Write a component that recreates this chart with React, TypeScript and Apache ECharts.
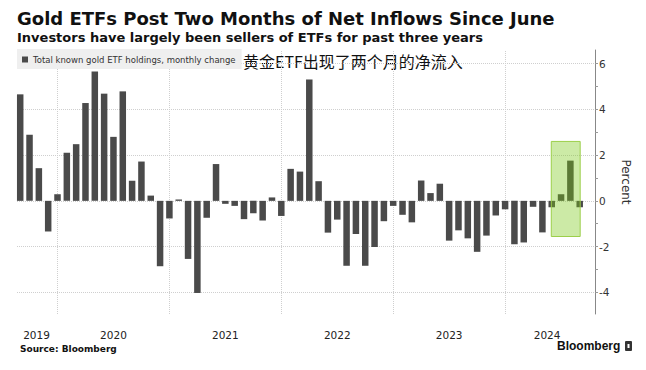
import React, { useEffect, useRef } from 'react';
import * as echarts from 'echarts';

const months = [
  '2019-09', '2019-10', '2019-11', '2019-12',
  '2020-01', '2020-02', '2020-03', '2020-04', '2020-05', '2020-06', '2020-07', '2020-08', '2020-09', '2020-10', '2020-11', '2020-12',
  '2021-01', '2021-02', '2021-03', '2021-04', '2021-05', '2021-06', '2021-07', '2021-08', '2021-09', '2021-10', '2021-11', '2021-12',
  '2022-01', '2022-02', '2022-03', '2022-04', '2022-05', '2022-06', '2022-07', '2022-08', '2022-09', '2022-10', '2022-11', '2022-12',
  '2023-01', '2023-02', '2023-03', '2023-04', '2023-05', '2023-06', '2023-07', '2023-08', '2023-09', '2023-10', '2023-11', '2023-12',
  '2024-01', '2024-02', '2024-03', '2024-04', '2024-05', '2024-06', '2024-07', '2024-08', '2024-09',
];

const changes = [
  4.66, 2.89, 1.43, -1.34,
  0.29, 2.10, 2.48, 4.28, 5.66, 4.69, 2.80, 4.79, 0.88, 1.72, 0.23, -2.86,
  -0.77, 0.06, -2.54, -4.03, -0.74, 1.61, -0.13, -0.22, -0.80, -0.54, -0.86, 0.15,
  -0.66, 1.40, 1.28, 5.31, 0.86, -1.39, -0.82, -2.84, -1.45, -2.84, -2.02, -0.89,
  -0.22, -0.61, -0.94, 0.89, 0.34, 0.75, -1.74, -1.29, -1.64, -2.23, -1.52, -0.64,
  -0.37, -1.90, -1.82, -0.26, -1.38, -0.28, 0.29, 1.76, -0.28,
];

const yearLabels = ['2019', '2020', '2021', '2022', '2023', '2024'];
const yearLabelPositions = [1.75, 10, 22, 34, 46, 56.5];
const yearStartPositions = [4, 16, 28, 40, 52];
const yLabelValues = [-4, -2, 0, 2, 4, 6];
const yTickValues = [-4, -3, -2, -1, 0, 1, 2, 3, 4, 5, 6];
const highlightX = [56.95, 60.05];
const highlightY = [-1.56, 2.6];

const titleText = 'Gold ETFs Post Two Months of Net Inflows Since June';
const subtitleText = 'Investors have largely been sellers of ETFs for past three years';
const seriesName = 'Total known gold ETF holdings, monthly change';
const annotationText = '黄金ETF出现了两个月的净流入';
const sourceText = 'Source: Bloomberg';
const yAxisName = 'Percent';

export default function App() {
  const ref = useRef<HTMLDivElement>(null);

  useEffect(() => {
    if (!ref.current) return;
    const chart = echarts.init(ref.current, undefined, { renderer: 'svg' });
    const sans = 'DejaVu Sans';
    chart.setOption({
      animation: false,
      backgroundColor: '#ffffff',
      title: [
        {
          text: titleText, left: 17, top: 9, padding: 0,
          textStyle: { fontFamily: sans, fontWeight: 'bold', fontSize: 18, color: '#111' },
        },
        {
          text: subtitleText, left: 17, top: 31, padding: 0,
          textStyle: { fontFamily: sans, fontWeight: 'bold', fontSize: 13, color: '#111' },
        },
      ],
      legend: {
        left: 17, top: 49, padding: [6, 6, 5, 5],
        backgroundColor: '#efefef',
        icon: 'rect', itemWidth: 6, itemHeight: 6,
        selectedMode: false,
        textStyle: { fontFamily: sans, fontSize: 8.5, color: '#333' },
        data: [seriesName],
      },
      grid: { left: 17, right: 51, top: 50, bottom: 56, containLabel: false },
      xAxis: {
        type: 'value', min: -0.344, max: 61.64,
        axisLine: { show: false, onZero: false }, axisTick: { show: false }, splitLine: { show: false },
        axisLabel: {
          customValues: yearLabelPositions,
          margin: 15,
          fontFamily: sans, fontSize: 10.5, color: '#222',
          formatter: (v: number) => {
            const i = yearLabelPositions.findIndex((p) => Math.abs(p - v) < 1e-6);
            return i >= 0 ? yearLabels[i] : '';
          },
        },
      },
      yAxis: {
        type: 'value', position: 'right', min: -4.95, max: 6.6,
        name: yAxisName, nameLocation: 'middle', nameRotate: -90, nameGap: 24,
        nameTextStyle: { fontFamily: sans, fontSize: 12, color: '#333' },
        axisLine: { show: true, onZero: false, lineStyle: { color: '#888' } },
        axisTick: { show: true, length: 3, customValues: yTickValues, lineStyle: { color: '#999' } },
        axisLabel: {
          customValues: yLabelValues, margin: 4,
          fontFamily: sans, fontSize: 10.5, color: '#333',
        },
        splitLine: { show: false },
      },
      series: [
        {
          type: 'bar',
          name: seriesName,
          data: changes.map((v, i) => [i, v]),
          barWidth: 6.5,
          itemStyle: { color: '#4a4a4a' },
          markLine: {
            silent: true, z: 1,
            symbol: ['none', 'none'],
            label: { show: false },
            lineStyle: { color: '#cfcfcf', type: 'dotted', width: 1 },
            emphasis: { disabled: true },
            data: [
              ...yearStartPositions.map((x) => ({ xAxis: x })),
              ...yLabelValues.map((y) => ({ yAxis: y })),
            ],
          },
          markArea: {
            silent: true, z: 10,
            itemStyle: { color: 'rgba(120,200,20,0.38)', borderColor: '#9ccf4a', borderWidth: 1 },
            emphasis: { disabled: true },
            data: [[
              { xAxis: highlightX[0], yAxis: highlightY[1] },
              { xAxis: highlightX[1], yAxis: highlightY[0] },
            ]],
          },
        },
      ],
      graphic: [
        {
          type: 'text', left: 243, top: 53,
          style: { text: annotationText, fontFamily: 'Noto Sans CJK SC', fontSize: 16, fill: '#111' },
        },
        {
          type: 'text', left: 20, top: 344,
          style: { text: sourceText, fontFamily: sans, fontWeight: 'bold', fontSize: 9, fill: '#111' },
        },
        {
          type: 'text', left: 557, top: 340,
          style: { text: 'Bloomberg', fontFamily: 'Liberation Sans', fontWeight: 'bold', fontSize: 12, fill: '#111' },
        },
        {
          type: 'rect', left: 625, top: 341,
          shape: { width: 7, height: 10, r: 1 },
          style: { fill: '#333' },
        },
        {
          type: 'rect', left: 627.5, top: 344,
          shape: { width: 2, height: 4 },
          style: { fill: '#fff' },
        },
      ],
    });
    return () => chart.dispose();
  }, []);

  return (
    <div
      ref={ref}
      style={{ position: 'fixed', left: 0, top: 0, width: 646, height: 370, background: '#fff' }}
    />
  );
}
